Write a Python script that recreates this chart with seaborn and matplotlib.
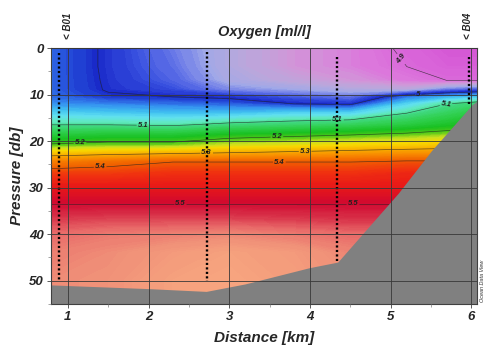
import numpy as np
import pandas as pd
import matplotlib
matplotlib.use("Agg")
import matplotlib.pyplot as plt
from matplotlib.colors import LinearSegmentedColormap, Normalize
from matplotlib.ticker import MultipleLocator
import seaborn as sns

# ---------------- data ----------------
distance_km = [0.79, 1.5, 2.3, 3.0, 3.8, 4.5, 5.2, 5.7, 6.07]
pressure_db = [0, 4, 7, 9, 10.5, 12, 14, 16.5, 19, 21, 22.5, 24.5, 27, 30, 33.5, 37, 40, 44, 50, 56]
oxygen = [
    [5.018, 4.996, 4.970, 4.945, 4.925, 4.915, 4.895, 4.885, 4.885],
    [5.018, 4.996, 4.974, 4.945, 4.925, 4.915, 4.900, 4.890, 4.890],
    [5.018, 4.997, 4.979, 4.950, 4.935, 4.925, 4.910, 4.900, 4.900],
    [5.018, 4.998, 4.987, 4.965, 4.955, 4.945, 4.940, 4.970, 4.980],
    [5.020, 5.004, 5.000, 4.995, 4.980, 4.970, 5.020, 5.040, 5.050],
    [5.030, 5.025, 5.020, 5.015, 5.000, 4.995, 5.060, 5.100, 5.120],
    [5.060, 5.055, 5.050, 5.050, 5.060, 5.060, 5.100, 5.130, 5.150],
    [5.100, 5.100, 5.095, 5.110, 5.120, 5.130, 5.150, 5.170, 5.180],
    [5.160, 5.170, 5.170, 5.190, 5.200, 5.210, 5.220, 5.230, 5.240],
    [5.210, 5.220, 5.220, 5.240, 5.250, 5.260, 5.270, 5.280, 5.280],
    [5.270, 5.280, 5.290, 5.300, 5.310, 5.320, 5.330, 5.330, 5.330],
    [5.360, 5.380, 5.400, 5.400, 5.400, 5.400, 5.410, 5.410, 5.410],
    [5.430, 5.430, 5.440, 5.440, 5.440, 5.440, 5.450, 5.450, 5.450],
    [5.470, 5.470, 5.470, 5.470, 5.470, 5.470, 5.470, 5.470, 5.470],
    [5.500, 5.500, 5.500, 5.500, 5.500, 5.500, 5.500, 5.500, 5.500],
    [5.535, 5.540, 5.540, 5.540, 5.535, 5.530, 5.530, 5.530, 5.530],
    [5.560, 5.570, 5.575, 5.580, 5.570, 5.560, 5.560, 5.560, 5.560],
    [5.575, 5.585, 5.600, 5.610, 5.600, 5.580, 5.580, 5.580, 5.580],
    [5.585, 5.590, 5.610, 5.615, 5.605, 5.590, 5.590, 5.590, 5.590],
    [5.585, 5.590, 5.610, 5.615, 5.605, 5.590, 5.590, 5.590, 5.590],
]
contour_levels = [4.9, 5.0, 5.1, 5.2, 5.3, 5.4, 5.5]
label_positions = [(5.14, 2.2), (5.34, 9.7), (1.93, 16.5), (4.34, 14.8),
                   (5.67, 10.9), (1.15, 20.6), (3.59, 19.3), (2.72, 23.0), (3.94, 22.4),
                   (1.40, 25.9), (3.62, 25.0), (2.39, 33.6), (4.53, 34.0)]
bottom_dist = [0.79, 2.0, 2.72, 3.2, 4.0, 4.35, 5.1, 5.51, 6.02, 6.07, 6.07, 0.79]
bottom_pres = [51.0, 51.8, 52.4, 50.8, 47.3, 46.1, 31.3, 22.2, 12.2, 11.6, 56, 56]
station_dist = [0.89, 2.72, 4.34, 5.97]
station_top = [1.0, 0.8, 2.0, 2.0]
station_bottom = [50.0, 50.0, 46.0, 12.0]
station_names = ["< B01", "< B04"]
station_label_dist = [1.0, 5.96]

cmap_values = [4.86, 4.89, 4.91, 4.925, 4.94, 4.955, 4.97, 4.985, 5.0, 5.015, 5.03, 5.05, 5.07,
               5.09, 5.11, 5.14, 5.18, 5.21, 5.235, 5.26, 5.30, 5.35, 5.40, 5.44, 5.47, 5.50,
               5.53, 5.56, 5.59, 5.62, 5.64]
cmap_colors = ["#c838c8", "#d860d8", "#dc78dc", "#d098d8", "#b8a8dc", "#a0a8e8", "#6878e8",
               "#3850e0", "#1828c8", "#2a5ce0", "#3490f0", "#40c0f0", "#60e0f0", "#60e8c0",
               "#40d880", "#30d050", "#18c020", "#50c818", "#c8e020", "#f8d800", "#f8b000",
               "#f88800", "#f06000", "#f03010", "#e81818", "#d00830", "#d83048", "#e86868",
               "#f09078", "#f8a880", "#f8b090"]

# ---------------- style ----------------
sns.set_style("ticks")
plt.rcParams["font.family"] = ["Liberation Sans", "DejaVu Sans"]

vmin, vmax = cmap_values[0], cmap_values[-1]
cmap = LinearSegmentedColormap.from_list(
    "odv", [((v - vmin) / (vmax - vmin), c) for v, c in zip(cmap_values, cmap_colors)])
norm = Normalize(vmin, vmax)

fig = plt.figure(figsize=(4.87, 3.51), dpi=100)
ax = fig.add_axes([0.1047, 0.1339, 0.8748, 0.7293])

X, Y = np.meshgrid(distance_km, pressure_db)
Z = np.array(oxygen)
fill = ax.contourf(X, Y, Z, levels=np.arange(4.86, 5.6401, 0.0025), cmap=cmap, norm=norm,
                   extend="both", zorder=1)
fill.set_edgecolor("face")
fill.set_linewidth(0.4)

lines = ax.contour(X, Y, Z, levels=contour_levels, colors="#202020", linewidths=0.45,
                   alpha=0.75, zorder=1.5)
texts = ax.clabel(lines, contour_levels, fmt="%g", fontsize=5.5, manual=label_positions,
                  inline=True, inline_spacing=1)
for t in texts:
    t.set_fontweight("bold")
    t.set_fontstyle("italic")
    t.set_color("#202020")

ax.fill(bottom_dist, bottom_pres, color="#808080", lw=0, zorder=2)

# stations as dotted sample columns
st = pd.DataFrame({
    "station": np.repeat(np.arange(len(station_dist)), 2),
    "dist": np.repeat(station_dist, 2),
    "pres": np.ravel(np.column_stack([station_top, station_bottom])),
})
sns.lineplot(data=st, x="dist", y="pres", units="station", estimator=None, orient="y",
             color="black", lw=1.7, linestyle=(0, (0.9, 1.0)), ax=ax, zorder=2.2, legend=False)

ax.set_xlim(0.79, 6.07)
ax.set_ylim(55, 0)
ax.xaxis.set_major_locator(MultipleLocator(1))
ax.xaxis.set_minor_locator(MultipleLocator(0.5))
ax.yaxis.set_major_locator(MultipleLocator(10))
ax.yaxis.set_minor_locator(MultipleLocator(5))
ax.set_axisbelow(False)
ax.grid(True, which="major", color="#383838", lw=0.6)
ax.tick_params(which="major", length=3, width=0.6, color="#404040", pad=2)
ax.tick_params(which="minor", length=2, width=0.5, color="#808080")
for lab in ax.get_xticklabels() + ax.get_yticklabels():
    lab.set_fontsize(9.5)
    lab.set_fontweight("bold")
    lab.set_fontstyle("italic")
for s in ax.spines.values():
    s.set_color("#404040")
    s.set_linewidth(0.8)

ax.set_xlabel("Distance [km]", fontsize=11, fontweight="bold", fontstyle="italic", labelpad=6)
ax.set_ylabel("Pressure [db]", fontsize=11, fontweight="bold", fontstyle="italic", labelpad=4)
ax.set_title("Oxygen [ml/l]", fontsize=10.5, fontweight="bold", fontstyle="italic", pad=9)

for name, d in zip(station_names, station_label_dist):
    ax.text(d, -2.0, name, rotation=90, ha="center", va="bottom", fontsize=7,
            fontweight="bold", fontstyle="italic", clip_on=False)

fig.text(0.991, 0.14, "Ocean Data View", rotation=90, fontsize=4, fontstyle="italic",
         ha="center", va="bottom", color="#303030")

fig.savefig("out.png", dpi=100)
